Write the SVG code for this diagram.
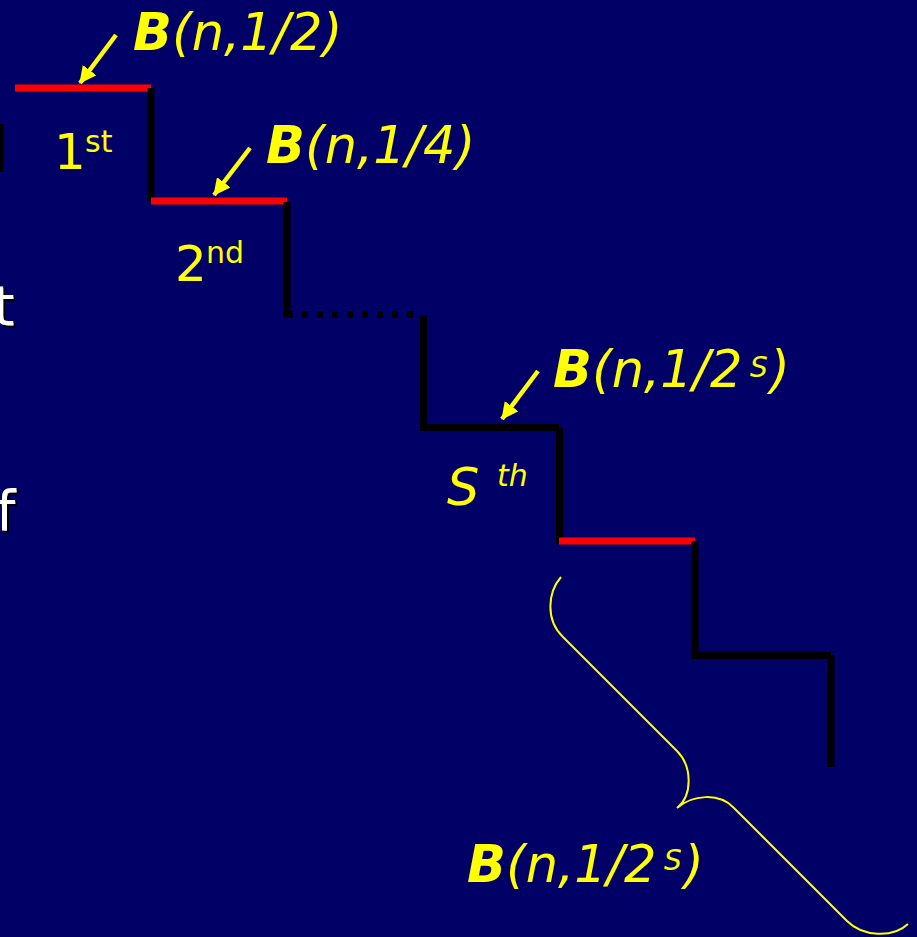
<svg xmlns="http://www.w3.org/2000/svg" width="917" height="937" viewBox="0 0 917 937">
  <style>
    .step { stroke: #000000; stroke-width: 7; stroke-linecap: butt; fill: none; }
    .hot { stroke: #FF0000; stroke-width: 7; stroke-linecap: butt; fill: none; }
    .dots { stroke: #000000; stroke-width: 7; stroke-dasharray: 6 9; fill: none; }
    .ptr { stroke: #FFFF00; stroke-width: 4.5; fill: none; marker-end: url(#head); }
    .brace { stroke: #FFFF00; stroke-width: 2; fill: none; }
    .lbl { font-family: "DejaVu Sans", Verdana, sans-serif; fill: #FFFF00; }
    .it { font-style: italic; }
    .bd { font-weight: bold; font-style: italic; }
    .side { font-family: "DejaVu Sans", Verdana, sans-serif; font-size: 55px; fill: #FFFFFF; filter: url(#shadow); }
  </style>
  <defs>
    <marker id="head" markerUnits="userSpaceOnUse" markerWidth="17" markerHeight="17" refX="16" refY="8.5" orient="auto">
      <path d="M0,0 L17,8.5 L0,17 z" fill="#FFFF00"/>
    </marker>
    <filter id="shadow" x="-20%" y="-20%" width="160%" height="160%">
      <feDropShadow dx="2" dy="2" stdDeviation="0.4" flood-color="#000000" flood-opacity="1"/>
    </filter>
  </defs>

  <rect x="0" y="0" width="917" height="937" fill="#000066"/>

  <!-- text running in from the left edge -->
  <g id="side-text">
    <rect x="0" y="124" width="3.5" height="48" fill="#000000"/>
    <text class="side" x="-7" y="325">t</text>
    <text class="side" x="-4" y="530">f</text>
  </g>

  <!-- staircase -->
  <g id="stairs">
    <line class="hot" x1="15" y1="88" x2="151" y2="88"/>
    <line class="step" x1="151" y1="88" x2="151" y2="201"/>
    <line class="hot" x1="151" y1="201" x2="287" y2="201"/>
    <line class="step" x1="287" y1="202" x2="287" y2="318"/>
    <line class="dots" x1="287" y1="314.5" x2="420" y2="314.5"/>
    <line class="step" x1="423.5" y1="315" x2="423.5" y2="431"/>
    <line class="step" x1="423" y1="427.5" x2="559" y2="427.5"/>
    <line class="step" x1="559.5" y1="428" x2="559.5" y2="544"/>
    <line class="hot" x1="559" y1="541" x2="695" y2="541"/>
    <line class="step" x1="695" y1="541" x2="695" y2="659"/>
    <line class="step" x1="695" y1="655.5" x2="831" y2="655.5"/>
    <line class="step" x1="831" y1="655" x2="831" y2="767"/>
  </g>

  <!-- pointer arrows and brace -->
  <g id="connectors">
    <line class="ptr" x1="116" y1="35" x2="80" y2="83"/>
    <line class="ptr" x1="250" y1="148" x2="214" y2="195"/>
    <line class="ptr" x1="538" y1="371" x2="502" y2="419"/>
    <path class="brace" d="M561,577 C548,592 545,620 563,637 L677,751 C692,766 693,795 677,808 C692,795 719,792 734,808 L847,921 C863,937 893,938 908,924"/>
  </g>

  <!-- step labels -->
  <g id="step1" class="lbl">
    <text x="54" y="169" font-size="50">1<tspan x="85" y="152" font-size="30">st</tspan></text>
  </g>
  <g id="step2" class="lbl">
    <text x="175" y="281" font-size="50">2<tspan x="206" y="263" font-size="30">nd</tspan></text>
  </g>
  <g id="stepS" class="lbl it">
    <text x="447" y="505" font-size="51">S<tspan x="497" y="486" font-size="30">th</tspan></text>
  </g>

  <!-- probability labels -->
  <g id="p1" class="lbl">
    <text x="133" y="50" font-size="51"><tspan class="bd">B</tspan><tspan class="it">(n,1/2)</tspan></text>
  </g>
  <g id="p2" class="lbl">
    <text x="266" y="163" font-size="51"><tspan class="bd">B</tspan><tspan class="it">(n,1/4)</tspan></text>
  </g>
  <g id="pS" class="lbl">
    <text x="553" y="387" font-size="51"><tspan class="bd">B</tspan><tspan class="it">(n,1/2</tspan></text>
    <text class="it" x="750" y="377" font-size="28">S</text>
    <text class="it" x="770" y="387" font-size="51">)</text>
  </g>
  <g id="pRest" class="lbl">
    <text x="467" y="882" font-size="51"><tspan class="bd">B</tspan><tspan class="it">(n,1/2</tspan></text>
    <text class="it" x="664" y="870" font-size="28">S</text>
    <text class="it" x="684" y="882" font-size="51">)</text>
  </g>
</svg>
